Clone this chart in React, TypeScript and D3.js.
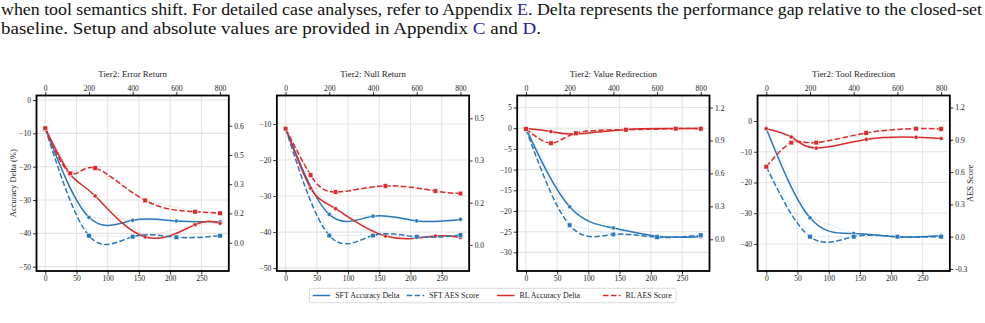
import * as d3 from "d3";
import { useEffect, useRef } from "react";

// steps (bottom axis units) for SFT and RL checkpoints
const sftSteps = [0, 70, 140, 210, 280];
const rlSteps = [0, 40, 80, 160, 240, 280];

const titles = [
  "Tier2: Error Return",
  "Tier2: Null Return",
  "Tier2: Value Redirection",
  "Tier2: Tool Redirection",
];

// accuracy delta (%) -> left axis
const sftAcc = [
  [-8.5, -35.2, -36.1, -36.3, -36.5],
  [-11.2, -35.1, -35.6, -36.9, -36.5],
  [-0.1, -19.0, -24.1, -26.1, -26.2],
  [-2.5, -31.5, -36.6, -37.7, -37.3],
];
const rlAcc = [
  [-8.5, -22.3, -28.8, -41.1, -37.4, -37.0],
  [-11.2, -27.8, -33.5, -41.1, -41.1, -41.5],
  [-0.1, -0.8, -1.4, -0.3, -0.1, 0.0],
  [-2.5, -5.2, -8.8, -6.0, -5.3, -5.7],
];

// AES score -> right axis
const sftAes = [
  [0.587, 0.036, 0.031, 0.028, 0.036],
  [0.459, 0.037, 0.037, 0.032, 0.039],
  [1.005, 0.128, 0.044, 0.019, 0.037],
  [0.65, 0.0, 0.0, 0.0, 0.0],
];
const rlAes = [
  [0.587, 0.356, 0.383, 0.217, 0.159, 0.151],
  [0.459, 0.276, 0.209, 0.233, 0.213, 0.203],
  [1.005, 0.875, 0.966, 0.998, 1.008, 1.007],
  [0.65, 0.874, 0.874, 0.964, 1.004, 1.001],
];

// axis ticks
const bottomTicks = [0, 50, 100, 150, 200, 250];
const topTicks = [0, 200, 400, 600, 800];
const leftTicks = [
  [0, -10, -20, -30, -40, -50],
  [-10, -20, -30, -40, -50],
  [5, 0, -5, -10, -15, -20, -25, -30],
  [0, -10, -20, -30, -40],
];
const rightTicks = [
  [0, 0.15, 0.3, 0.45, 0.6],
  [0, 1 / 6, 2 / 6, 0.5],
  [0, 0.3, 0.6, 0.9, 1.2],
  [-0.3, 0, 0.3, 0.6, 0.9, 1.2],
];
const rightTickLabels = [
  ["0.0", "0.2", "0.3", "0.5", "0.6"],
  ["0.0", "0.2", "0.3", "0.5"],
  ["0.0", "0.3", "0.6", "0.9", "1.2"],
  ["-0.3", "0.0", "0.3", "0.6", "0.9", "1.2"],
];

// axis limits
const xLim = [-14, 294];
const topMax = 800;
const sftMax = 280;
const leftLim = [
  [-51.3, 1.35],
  [-50.8, -2.1],
  [-34.5, 7.9],
  [-48.8, 8.3],
];
const rightLim = [
  [-0.145, 0.755],
  [-0.103, 0.59],
  [-0.289, 1.31],
  [-0.319, 1.312],
];

const legendLabels = ["SFT Accuracy Delta", "SFT AES Score", "RL Accuracy Delta", "RL AES Score"];

const BLUE = "#2a78bb";
const RED = "#d92b2b";
const LINK = "#1c2496";
const FONT = "'Liberation Serif', 'Times New Roman', serif";

export default function App() {
  const svgRef = useRef<SVGSVGElement | null>(null);

  useEffect(() => {
    if (!svgRef.current) return;
    const svg = d3.select(svgRef.current);
    svg.selectAll("*").remove();

    svg.append("rect").attr("width", 985).attr("height", 323).attr("fill", "#fff");

    // paragraph above the figure
    const p1 = svg
      .append("text")
      .attr("x", 1)
      .attr("y", 15)
      .attr("font-family", FONT)
      .attr("font-size", 16.5)
      .attr("fill", "#111")
      .attr("textLength", 981)
      .attr("lengthAdjust", "spacingAndGlyphs");
    p1.append("tspan").text(
      "when tool semantics shift. For detailed case analyses, refer to Appendix "
    );
    p1.append("tspan").attr("fill", LINK).text("E");
    p1.append("tspan").text(
      ". Delta represents the performance gap relative to the closed-set"
    );

    const p2 = svg
      .append("text")
      .attr("x", 1)
      .attr("y", 33.5)
      .attr("font-family", FONT)
      .attr("font-size", 16.5)
      .attr("fill", "#111")
      .attr("textLength", 540)
      .attr("lengthAdjust", "spacingAndGlyphs");
    p2.append("tspan").text("baseline. Setup and absolute values are provided in Appendix ");
    p2.append("tspan").attr("fill", LINK).text("C");
    p2.append("tspan").text(" and ");
    p2.append("tspan").attr("fill", LINK).text("D");
    p2.append("tspan").text(".");

    const top = 95.5;
    const bottom = 271;
    const pw = 192.3;
    const left0 = 36.5;
    const step = 240.35;

    titles.forEach((title, i) => {
      const x0 = left0 + i * step;
      const x = d3.scaleLinear().domain(xLim).range([x0, x0 + pw]);
      const xTop = d3
        .scaleLinear()
        .domain(xLim.map((v) => (v * topMax) / sftMax))
        .range([x0, x0 + pw]);
      const yL = d3.scaleLinear().domain(leftLim[i]).range([bottom, top]);
      const yR = d3.scaleLinear().domain(rightLim[i]).range([bottom, top]);

      const g = svg.append("g");

      // grid
      g.selectAll(".vg")
        .data(bottomTicks)
        .join("line")
        .attr("x1", (d) => x(d))
        .attr("x2", (d) => x(d))
        .attr("y1", top)
        .attr("y2", bottom)
        .attr("stroke", "#e4e4e4")
        .attr("stroke-width", 1.1);
      g.selectAll(".hg")
        .data(leftTicks[i])
        .join("line")
        .attr("x1", x0)
        .attr("x2", x0 + pw)
        .attr("y1", (d) => yL(d))
        .attr("y2", (d) => yL(d))
        .attr("stroke", "#e4e4e4")
        .attr("stroke-width", 1.1);

      const series = [
        { xs: sftSteps, ys: sftAcc[i], y: yL, color: BLUE, dash: null, marker: "circle" },
        { xs: rlSteps, ys: rlAcc[i], y: yL, color: RED, dash: null, marker: "circle" },
        { xs: sftSteps, ys: sftAes[i], y: yR, color: BLUE, dash: "5.5,2.4", marker: "square" },
        { xs: rlSteps, ys: rlAes[i], y: yR, color: RED, dash: "5.5,2.4", marker: "square" },
      ];

      series.forEach((s) => {
        // faint raw connection
        const raw = d3
          .line<number>()
          .x((_, k) => x(s.xs[k]))
          .y((d) => s.y(d));
        g.append("path")
          .datum(s.ys)
          .attr("fill", "none")
          .attr("stroke", s.color)
          .attr("stroke-width", 0.9)
          .attr("stroke-dasharray", "1,1.5")
          .attr("opacity", 0.35)
          .attr("d", raw);

        const smooth = d3
          .line<number>()
          .x((_, k) => x(s.xs[k]))
          .y((d) => s.y(d))
          .curve(d3.curveNatural);
        g.append("path")
          .datum(s.ys)
          .attr("fill", "none")
          .attr("stroke", s.color)
          .attr("stroke-width", 1.5)
          .attr("stroke-dasharray", s.dash)
          .attr("d", smooth);

        if (s.marker === "circle") {
          g.selectAll(null)
            .data(s.ys)
            .join("circle")
            .attr("cx", (_, k) => x(s.xs[k]))
            .attr("cy", (d) => s.y(d))
            .attr("r", 2.1)
            .attr("fill", s.color)
            .attr("stroke", "#fff")
            .attr("stroke-width", 0.5);
        } else {
          g.selectAll(null)
            .data(s.ys)
            .join("rect")
            .attr("x", (_, k) => x(s.xs[k]) - 2.3)
            .attr("y", (d) => s.y(d) - 2.3)
            .attr("width", 4.6)
            .attr("height", 4.6)
            .attr("fill", s.color)
            .attr("stroke", "#fff")
            .attr("stroke-width", 0.5);
        }
      });

      // frame
      g.append("rect")
        .attr("x", x0)
        .attr("y", top)
        .attr("width", pw)
        .attr("height", bottom - top)
        .attr("fill", "none")
        .attr("stroke", "#000")
        .attr("stroke-width", 1.8);

      const styleAxis = (a: d3.Selection<SVGGElement, unknown, null, undefined>) => {
        a.select(".domain").remove();
        a.attr("font-family", FONT).attr("font-size", 7.6);
        a.selectAll(".tick line").attr("stroke", "#000").attr("stroke-width", 0.8);
        a.selectAll(".tick text").attr("fill", "#222");
      };

      g.append("g")
        .attr("transform", `translate(${x0},0)`)
        .call(d3.axisLeft(yL).tickValues(leftTicks[i]).tickSize(3.5).tickPadding(2))
        .call(styleAxis);
      g.append("g")
        .attr("transform", `translate(${x0 + pw},0)`)
        .call(
          d3
            .axisRight(yR)
            .tickValues(rightTicks[i])
            .tickFormat((_, k) => rightTickLabels[i][k])
            .tickSize(3.5)
            .tickPadding(2)
        )
        .call(styleAxis);
      g.append("g")
        .attr("transform", `translate(0,${bottom})`)
        .call(d3.axisBottom(x).tickValues(bottomTicks).tickSize(3.5).tickPadding(1.5))
        .call(styleAxis);
      g.append("g")
        .attr("transform", `translate(0,${top})`)
        .call(d3.axisTop(xTop).tickValues(topTicks).tickSize(3.5).tickPadding(1.5))
        .call(styleAxis);

      g.append("text")
        .attr("x", x0 + pw / 2)
        .attr("y", 77)
        .attr("text-anchor", "middle")
        .attr("font-family", FONT)
        .attr("font-size", 8.9)
        .attr("fill", "#222")
        .text(title);
    });

    // axis labels
    svg
      .append("text")
      .attr("transform", `translate(16,${(top + bottom) / 2}) rotate(-90)`)
      .attr("text-anchor", "middle")
      .attr("font-family", FONT)
      .attr("font-size", 8.5)
      .attr("fill", "#222")
      .text("Accuracy Delta (%)");
    svg
      .append("text")
      .attr("transform", `translate(973,${(top + bottom) / 2}) rotate(-90)`)
      .attr("text-anchor", "middle")
      .attr("font-family", FONT)
      .attr("font-size", 8.5)
      .attr("fill", "#222")
      .text("AES Score");

    // legend
    const lg = svg.append("g");
    lg.append("rect")
      .attr("x", 309.5)
      .attr("y", 288.3)
      .attr("width", 366.5)
      .attr("height", 14.4)
      .attr("rx", 2)
      .attr("fill", "#fff")
      .attr("stroke", "#d0d0d0")
      .attr("stroke-width", 0.8);
    const itemX = [312.7, 406.7, 497, 603];
    const itemColor = [BLUE, BLUE, RED, RED];
    const itemDash = [null, "5.5,2.4", null, "5.5,2.4"];
    legendLabels.forEach((label, k) => {
      lg.append("line")
        .attr("x1", itemX[k])
        .attr("x2", itemX[k] + 17.5)
        .attr("y1", 295.5)
        .attr("y2", 295.5)
        .attr("stroke", itemColor[k])
        .attr("stroke-width", 1.5)
        .attr("stroke-dasharray", itemDash[k]);
      lg.append("text")
        .attr("x", itemX[k] + 22.5)
        .attr("y", 298.2)
        .attr("font-family", FONT)
        .attr("font-size", 7.9)
        .attr("fill", "#222")
        .text(label);
    });
  }, []);

  return (
    <svg
      ref={svgRef}
      width={985}
      height={323}
      style={{ position: "absolute", left: 0, top: 0 }}
    />
  );
}
